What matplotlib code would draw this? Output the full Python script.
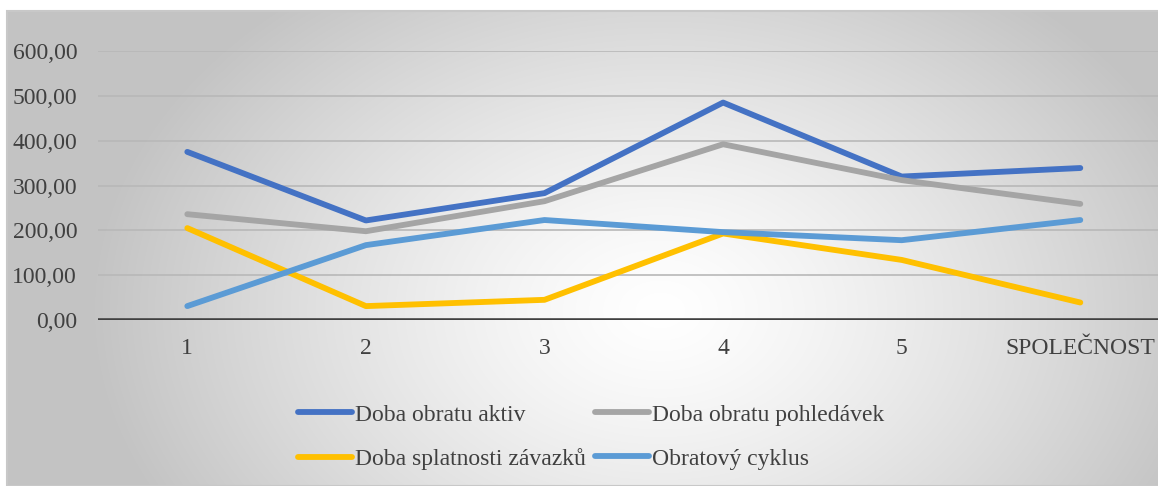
#!/usr/bin/env python3
# -*- coding: utf-8 -*-

import numpy as np
import matplotlib
matplotlib.use('Agg')
import matplotlib.pyplot as plt
from matplotlib.patches import Rectangle

categories = ['1', '2', '3', '4', '5', 'SPOLEČNOST']
doba_aktiv = [375, 222, 283, 485, 320, 339]
doba_pohledavek = [236, 198, 265, 392, 312, 259]
doba_zavazku = [205, 31, 45, 193, 134, 39]
obratovy_cyklus = [31, 167, 223, 196, 178, 223]
y_ticks = [0, 100, 200, 300, 400, 500, 600]

series = [
	('Doba obratu aktiv', doba_aktiv, '#4472C4'),
	('Doba obratu pohledávek', doba_pohledavek, '#A5A5A5'),
	('Doba splatnosti závazků', doba_zavazku, '#FFC000'),
	('Obratový cyklus', obratovy_cyklus, '#5B9BD5'),
]

plt.rcParams['font.family'] = ['Liberation Serif', 'DejaVu Serif']

W, H = 1158, 486
fig = plt.figure(figsize=(W / 100, H / 100), dpi=100)

#radial gradient background of the chart area
bg = fig.add_axes([7 / W, 0, 1 - 7 / W, (H - 11) / H], zorder=-2)
xx, yy = np.meshgrid(np.arange(7, W), np.arange(11, H))
r = np.sqrt(((xx - 660) / 600.0) ** 2 + ((yy - 310) / 430.0) ** 2)
val = np.clip(1 - 0.25 * r ** 1.3, 0.765, 1)
bg.imshow(np.dstack([val, val, val]), aspect='auto', interpolation='bilinear')
bg.set_axis_off()
fig.patches.append(Rectangle((7 / W, 0), 1, (H - 11) / H, transform=fig.transFigure,
	fill=False, edgecolor='#c8c8c8', lw=1.5, zorder=-1))

ax = fig.add_axes([98 / W, (H - 320) / H, 1 - 98 / W, (320 - 51) / H])
ax.set_facecolor('none')
x = np.arange(1, len(categories) + 1)
lines = {}
for name, vals, color in series:
	lines[name], = ax.plot(x, vals, color=color, lw=4.2, label=name, solid_capstyle='round',
		solid_joinstyle='round', zorder=3)

ax.set_xlim(0.5, 6.435)
ax.set_ylim(0, 600)
ax.set_yticks(y_ticks)
ax.set_yticklabels(['%d,00' % v for v in y_ticks])
ax.set_xticks(x)
ax.set_xticklabels(categories)
ax.grid(axis='y', color='#b8b8b8', lw=1.2)
ax.axhline(0, color='#404040', lw=3.3, zorder=4)
for s in ax.spines.values():
	s.set_visible(False)
ax.tick_params(axis='both', length=0, labelsize=17, labelcolor='#404040')
ax.tick_params(axis='y', pad=15)
ax.tick_params(axis='x', pad=13)

#legend is filled column by column, so order for row reading
order = ['Doba obratu aktiv', 'Doba splatnosti závazků', 'Doba obratu pohledávek', 'Obratový cyklus']
ax.legend([lines[n] for n in order], order, loc='center',
	bbox_to_anchor=(591 / W, (H - 437) / H), bbox_transform=fig.transFigure,
	ncol=2, frameon=False, fontsize=17, handlelength=2.3, handletextpad=0.1,
	columnspacing=0.4, labelspacing=0.95, labelcolor='#404040')

plt.savefig('out.png', dpi=100)
print('Saved plot to out.png')
